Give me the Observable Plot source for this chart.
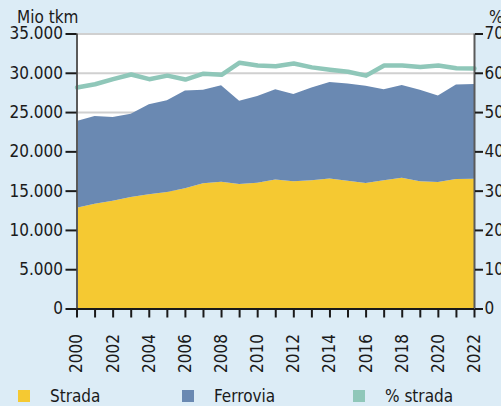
<!DOCTYPE html>
<html><head><meta charset="utf-8">
<script src="https://cdn.jsdelivr.net/npm/d3@7"></script>
<script src="https://cdn.jsdelivr.net/npm/@observablehq/plot@0.6"></script>
<style>
html,body{margin:0;padding:0;background:#dcecf6;width:501px;height:406px;overflow:hidden;font-family:"Liberation Sans Narrow","DejaVu Sans Condensed","Arial Narrow",sans-serif}
#wrap{position:relative;width:501px;height:406px}
#wrap svg{position:absolute;left:0;top:0}
.lbl{position:absolute;font-size:17px;color:#1a1a1a;line-height:1;white-space:nowrap}
.sw{position:absolute;width:12px;height:12px}
</style></head>
<body>
<div id="wrap"></div>
<script>
const years = [2000,2001,2002,2003,2004,2005,2006,2007,2008,2009,2010,2011,2012,2013,2014,2015,2016,2017,2018,2019,2020,2021,2022];
const strada = [12820,13330,13720,14190,14530,14820,15290,15930,16130,15840,16000,16420,16180,16310,16560,16260,15970,16310,16640,16180,16090,16470,16510];
const ferrovia = [11040,11160,10640,10590,11450,11670,12470,11910,12270,10600,11030,11470,11110,11830,12260,12390,12380,11580,11790,11660,11030,12050,12050];
const pctStrada = [56.4,57.2,58.5,59.7,58.5,59.4,58.4,59.9,59.6,62.7,62.0,61.8,62.5,61.5,60.9,60.4,59.4,62.0,62.0,61.6,62.0,61.3,61.2];
const yTicks = [0,5000,10000,15000,20000,25000,30000,35000];
const pctTicks = [0,10,20,30,40,50,60,70];
const seriesNames = ["Strada","Ferrovia","% strada"];
const colors = ["#f5c932","#6a89b2","#8fc7b9"];

const tidy = [];
years.forEach((y,i)=>{
  tidy.push({year:y, type:seriesNames[0], value:strada[i]});
  tidy.push({year:y, type:seriesNames[1], value:ferrovia[i]});
});
const pctData = years.map((y,i)=>({year:y, pct:pctStrada[i]}));
const pctScale = 35000/70;
const fmt = d3.formatLocale({decimal:",", thousands:".", grouping:[3], currency:["",""]}).format(",");
const font = '"Liberation Sans Narrow","DejaVu Sans Condensed","Arial Narrow",sans-serif';

const chart = Plot.plot({
  width:501, height:406,
  marginLeft:76.5, marginRight:27, marginTop:33.5, marginBottom:97.5,
  style:{background:"transparent", fontFamily:font, fontSize:"17px", color:"#1a1a1a", overflow:"visible"},
  x:{domain:[2000,2022]},
  y:{domain:[0,35000]},
  color:{domain:seriesNames.slice(0,2), range:colors.slice(0,2)},
  marks:[
    Plot.frame({fill:"white", stroke:null}),
    Plot.ruleY(yTicks.slice(1), {stroke:"#d0d0d0", strokeWidth:2}),
    Plot.areaY(tidy, {x:"year", y:"value", fill:"type", order:seriesNames.slice(0,2)}),
    Plot.lineY(pctData, {x:"year", y:d=>d.pct*pctScale, stroke:colors[2], strokeWidth:4.5}),
    Plot.ruleX([2000,2022], {stroke:"#5a5a5a", strokeWidth:2}),
    Plot.ruleY([0], {stroke:"#1a1a1a", strokeWidth:2}),
    Plot.axisY(yTicks, {label:null, tickFormat:fmt, tickSize:11, tickPadding:3, stroke:"#1a1a1a", strokeWidth:2, fontSize:17}),
    Plot.axisY(pctTicks.map(d=>d*pctScale), {label:null, anchor:"right", tickFormat:d=>d/pctScale, tickSize:8, tickPadding:2, stroke:"#1a1a1a", strokeWidth:2, fontSize:17}),
    Plot.axisX(years, {label:null, tickFormat:d=>d%2===0?String(d):"", tickRotate:-90, tickSize:9, tickPadding:16, stroke:"#1a1a1a", strokeWidth:2, fontSize:17})
  ]
});
const wrap = document.getElementById("wrap");
wrap.appendChild(chart);

function addLabel(text, left, top){
  const d = document.createElement("div");
  d.className="lbl"; d.textContent=text; d.style.left=left+"px"; d.style.top=top+"px";
  wrap.appendChild(d);
}
addLabel("Mio tkm", 17, 9);
addLabel("%", 489, 9);
const legX = [18,182,353];
seriesNames.forEach((n,i)=>{
  const s = document.createElement("div");
  s.className="sw"; s.style.left=legX[i]+"px"; s.style.top="390px"; s.style.background=colors[i];
  wrap.appendChild(s);
  addLabel(n, legX[i]+32, 388);
});
</script>
</body></html>
